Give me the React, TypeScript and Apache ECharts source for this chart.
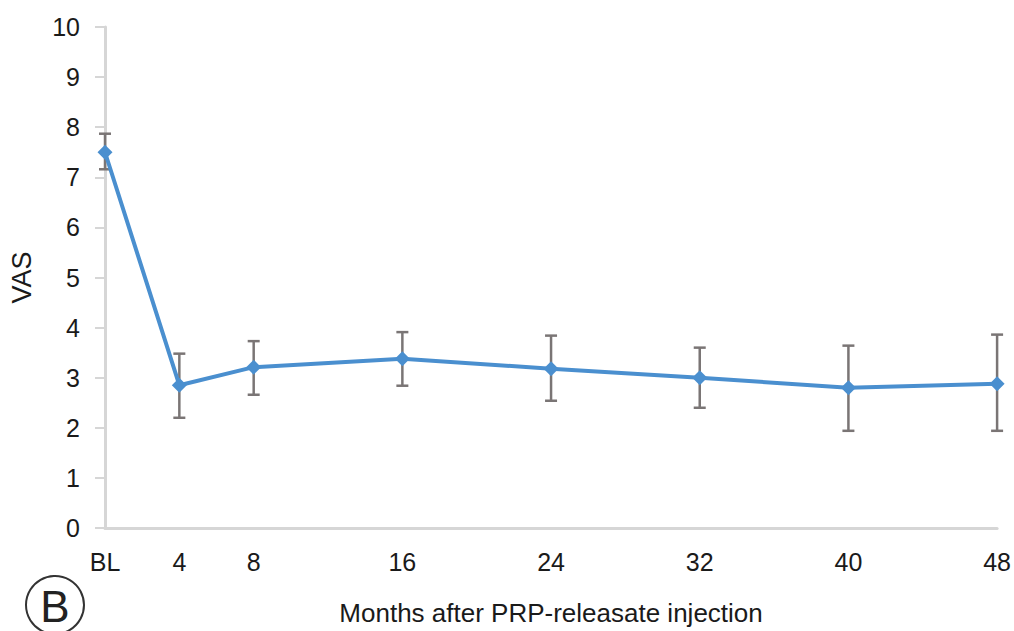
import React, { useEffect, useRef } from "react";
import * as echarts from "echarts";

const months = [0, 4, 8, 16, 24, 32, 40, 48];
const tickValues = [0, 4, 8, 16, 24, 32, 40, 48];
const vas = [7.5, 2.85, 3.21, 3.38, 3.18, 3.0, 2.8, 2.88];
const errUpper = [7.87, 3.48, 3.73, 3.91, 3.84, 3.6, 3.64, 3.86];
const errLower = [7.16, 2.2, 2.66, 2.84, 2.54, 2.4, 1.94, 1.94];

export default function App() {
  const ref = useRef<HTMLDivElement>(null);
  useEffect(() => {
    if (!ref.current) return;
    const chart = echarts.init(ref.current, null, { renderer: "svg" });
    const font = "'Liberation Sans', Arial, sans-serif";
    const lineData = months.map((m, i) => [m, vas[i]]);
    const errData = months.map((m, i) => [m, errLower[i], errUpper[i]]);
    chart.setOption({
      animation: false,
      backgroundColor: "#ffffff",
      grid: { left: 105, top: 27, right: 16, bottom: 101, containLabel: false },
      xAxis: {
        type: "value",
        min: 0,
        max: 48,
        name: "Months after PRP-releasate injection",
        nameLocation: "middle",
        nameGap: 72,
        nameTextStyle: { fontFamily: font, fontSize: 26, color: "#1a1a1a" },
        axisLine: { show: true, lineStyle: { color: "#d6d6d6", width: 3 } },
        axisTick: { show: false },
        splitLine: { show: false },
        axisLabel: {
          customValues: tickValues,
          formatter: (v: number) => (v === 0 ? "BL" : String(v)),
          fontFamily: font,
          fontSize: 25,
          color: "#1a1a1a",
          margin: 21,
        },
      },
      yAxis: {
        type: "value",
        min: 0,
        max: 10,
        interval: 1,
        name: "VAS",
        nameLocation: "middle",
        nameGap: 70,
        nameRotate: 90,
        nameTextStyle: { fontFamily: font, fontSize: 27, color: "#1a1a1a" },
        axisLine: { show: true, lineStyle: { color: "#d6d6d6", width: 3 } },
        axisTick: { show: true, inside: false, length: 10, lineStyle: { color: "#d6d6d6", width: 2 } },
        splitLine: { show: false },
        axisLabel: { fontFamily: font, fontSize: 25, color: "#1a1a1a", margin: 25 },
      },
      series: [
        {
          type: "custom",
          z: 1,
          data: errData,
          encode: { x: 0, y: [1, 2] },
          renderItem: (params: any, api: any) => {
            const x = api.value(0);
            const lo = api.coord([x, api.value(1)]);
            const hi = api.coord([x, api.value(2)]);
            const cap = 6;
            const style = { stroke: "#7a7575", lineWidth: 2.5 };
            return {
              type: "group",
              children: [
                { type: "line", shape: { x1: hi[0], y1: hi[1], x2: lo[0], y2: lo[1] }, style },
                { type: "line", shape: { x1: hi[0] - cap, y1: hi[1], x2: hi[0] + cap, y2: hi[1] }, style },
                { type: "line", shape: { x1: lo[0] - cap, y1: lo[1], x2: lo[0] + cap, y2: lo[1] }, style },
              ],
            };
          },
        },
        {
          type: "line",
          z: 3,
          data: lineData,
          symbol: "diamond",
          symbolSize: 15,
          lineStyle: { color: "#4a8fcf", width: 4 },
          itemStyle: { color: "#4a8fcf" },
        },
      ],
      graphic: [
        {
          type: "circle",
          shape: { cx: 55, cy: 605, r: 29 },
          style: { fill: "none", stroke: "#333333", lineWidth: 2 },
        },
        {
          type: "text",
          x: 55,
          y: 606,
          style: {
            text: "B",
            fontFamily: font,
            fontSize: 44,
            fill: "#222222",
            align: "center",
            verticalAlign: "middle",
          },
        },
      ],
    });
    return () => chart.dispose();
  }, []);
  return (
    <div
      ref={ref}
      style={{ position: "fixed", left: 0, top: 0, width: 1014, height: 631 }}
    />
  );
}
